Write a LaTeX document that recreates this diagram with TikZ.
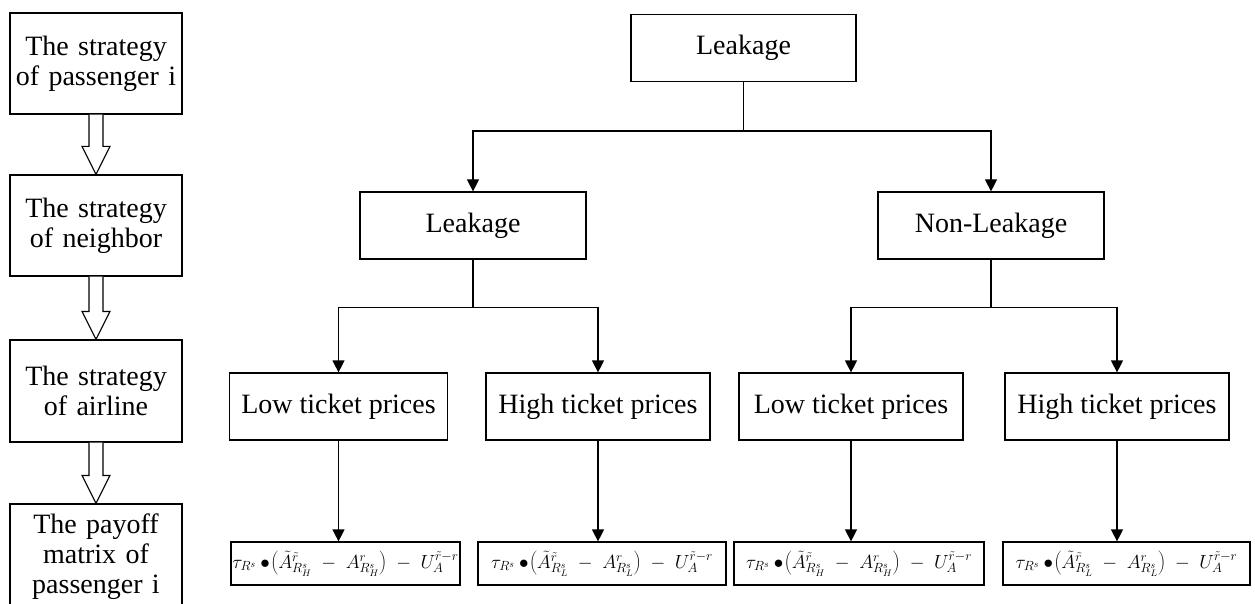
\RequirePackage{fix-cm}
\documentclass[tikz,border=0pt]{standalone}
\usepackage{fontspec}
\setmainfont{Liberation Serif}
\usetikzlibrary{arrows.meta,calc}

\tikzset{
  stratbox/.style={draw, line width=1.2pt, inner sep=0pt, minimum width=172pt,
    text width=172pt, align=center, font=\fontsize{28}{30}\selectfont},
  treebox/.style={draw, line width=1.2pt, inner sep=0pt, minimum height=67pt,
    font=\fontsize{28}{31}\selectfont},
  formbox/.style={draw, line width=1.2pt, inner sep=0pt, minimum height=43pt,
    font=\fontsize{19}{21}\selectfont},
  arr/.style={line width=1.2pt, -{Triangle[length=12pt,width=12pt]}}
}

% 白抜きの矢印
\newcommand{\hollowarrow}[2]{%
  \draw[line width=1.2pt, fill=white]
    ($(#1.south)+(-7,0)$) -- ($(#2.north)+(-7,-28)$) -- ($(#2.north)+(-14,-28)$)
    -- (#2.north) -- ($(#2.north)+(14,-28)$) -- ($(#2.north)+(7,-28)$)
    -- ($(#1.south)+(7,0)$);}

% 利得の式
\newcommand{\payexpr}[1]{$\tau_{R^{s}}\bullet\!\left(\tilde{A}^{\tilde{r}}_{R^{s}_{#1}}
  \;-\;A^{r}_{R^{s}_{#1}}\right)\;-\;U_{A}^{\tilde{r}-r}$}

\begin{document}
\begin{tikzpicture}[x=1pt,y=-1pt]
  % 全体の範囲
  \useasboundingbox (0,0) rectangle (1255,604);
  \clip (0,0) rectangle (1255,604);
  % 左の列：戦略の箱
  \node[stratbox, minimum height=101pt] (pass) at (96,63.5) {The strategy\\of passenger i};
  \node[stratbox, minimum height=101pt] (nbr) at (96,225.5) {The strategy\\of neighbor};
  \node[stratbox, minimum height=102pt] (air) at (96,391) {The strategy\\of airline};
  \node[stratbox, minimum height=106pt] (pay) at (96,557) {The payoff\\matrix of\\passenger i};
  % 左の列の矢印
  \hollowarrow{pass}{nbr}
  \hollowarrow{nbr}{air}
  \hollowarrow{air}{pay}

  % 木の根
  \node[treebox, minimum width=225pt] (root) at (743.5,48) {Leakage};
  % 二段目
  \node[treebox, minimum width=226pt] (lk) at (473,225.5) {Leakage};
  \node[treebox, minimum width=226pt] (nl) at (991,225.5) {Non-Leakage};
  % 三段目
  \node[treebox, minimum width=218pt] (lkl) at (338.5,406.5) {Low ticket prices};
  \node[treebox, minimum width=224pt] (lkh) at (598,406.5) {High ticket prices};
  \node[treebox, minimum width=224pt] (nll) at (851,406.5) {Low ticket prices};
  \node[treebox, minimum width=224pt] (nlh) at (1117,406.5) {High ticket prices};
  % 式の箱
  \node[formbox, minimum width=229pt] (f1) at (345.5,563.5) {\payexpr{H}};
  \node[formbox, minimum width=248pt] (f2) at (602,563.5) {\payexpr{L}};
  \node[formbox, minimum width=250pt] (f3) at (859,563.5) {\payexpr{H}};
  \node[formbox, minimum width=247pt] (f4) at (1126.5,563.5) {\payexpr{L}};

  % 根から二段目へ
  \coordinate (j0) at ($(root.south)+(0,49)$);
  \draw[line width=1.2pt] (root.south) -- (j0);
  \draw[arr] (j0) -| (lk.north);
  \draw[arr] (j0) -| (nl.north);
  % Leakage から三段目へ
  \coordinate (j1) at ($(lk.south)+(0,48)$);
  \draw[line width=1.2pt] (lk.south) -- (j1);
  \draw[arr] (j1) -| (lkl.north);
  \draw[arr] (j1) -| (lkh.north);
  % Non-Leakage から三段目へ
  \coordinate (j2) at ($(nl.south)+(0,48)$);
  \draw[line width=1.2pt] (nl.south) -- (j2);
  \draw[arr] (j2) -| (nll.north);
  \draw[arr] (j2) -| (nlh.north);
  % 三段目から式へ
  \draw[arr] (lkl.south) -- (lkl.south |- f1.north);
  \draw[arr] (lkh.south) -- (lkh.south |- f2.north);
  \draw[arr] (nll.south) -- (nll.south |- f3.north);
  \draw[arr] (nlh.south) -- (nlh.south |- f4.north);
\end{tikzpicture}
\end{document}
